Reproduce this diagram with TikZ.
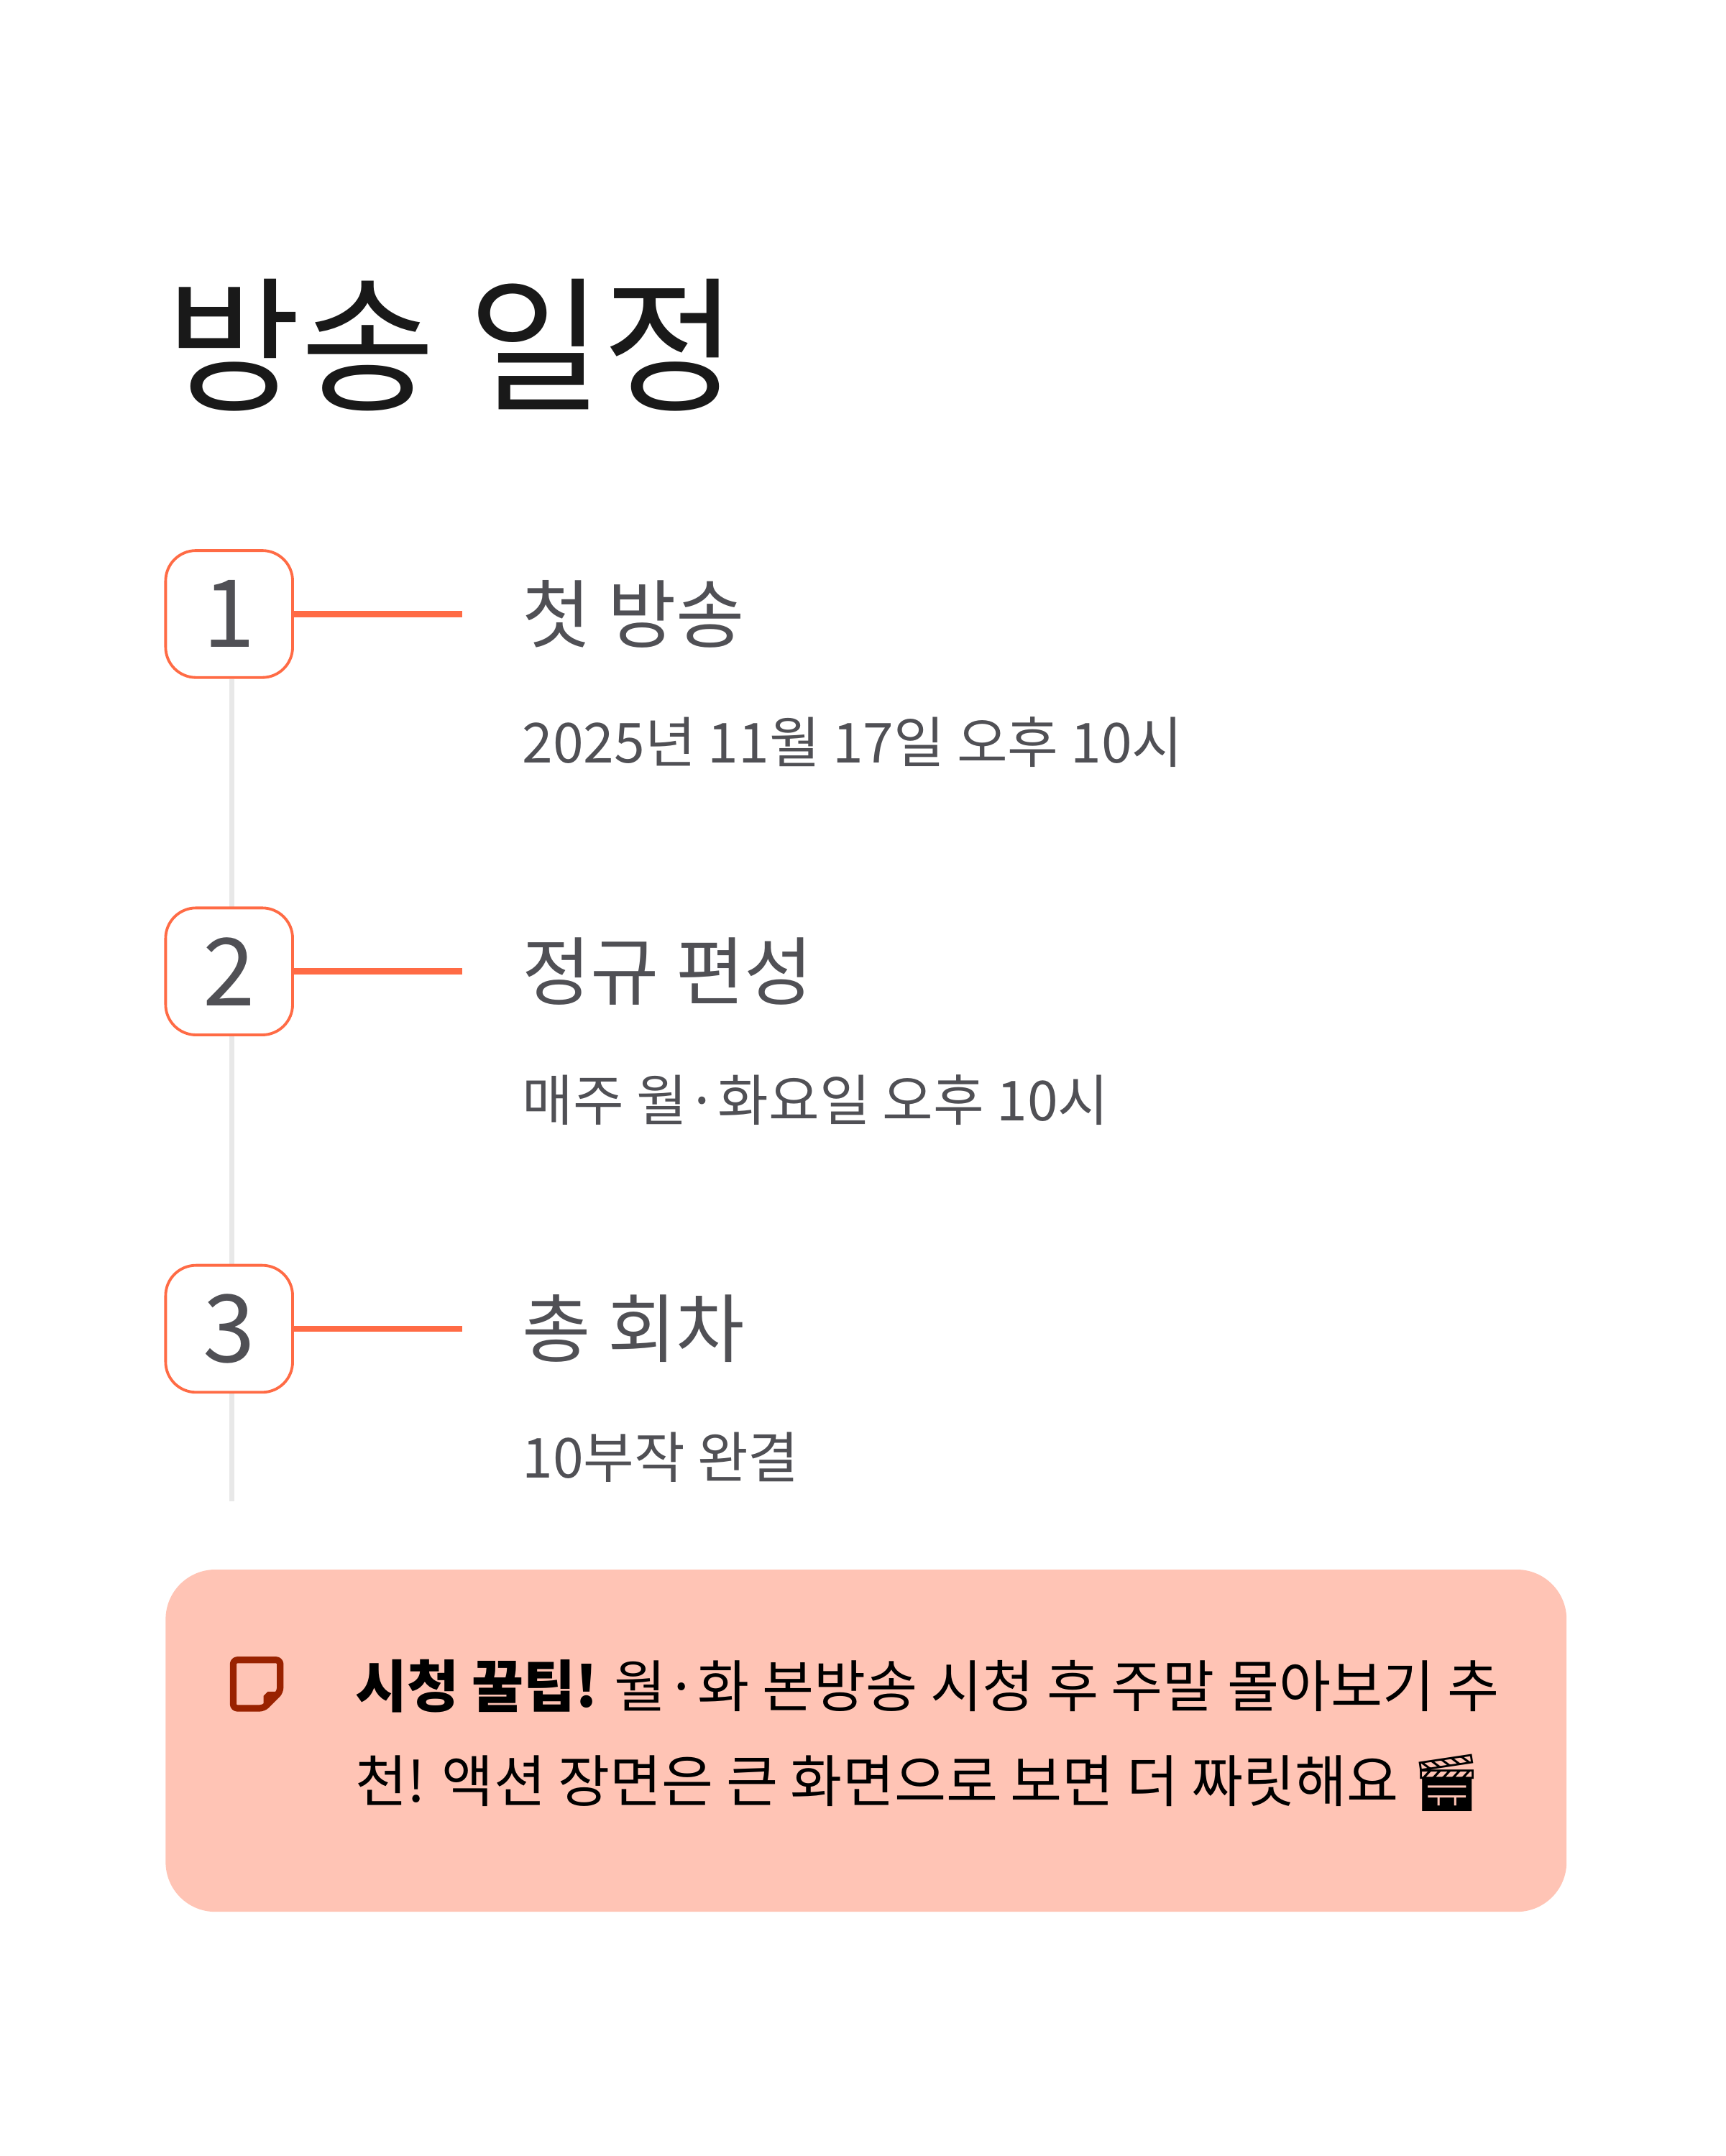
\documentclass[tikz,border=0pt]{standalone}
\usepackage{fontspec}
\setmainfont{Noto Sans CJK KR}
\newfontfamily\emojifont{Noto Emoji}
\definecolor{accent}{HTML}{FF6B45}
\definecolor{txtgray}{HTML}{505055}
\definecolor{tipbg}{HTML}{FFC4B5}
\definecolor{icon}{HTML}{992200}
\definecolor{rail}{HTML}{E8E8E8}
\tikzset{
  numbox/.style={draw=accent,line width=1pt,rounded corners=11pt,minimum width=46pt,minimum height=46pt,fill=white,font=\fontsize{34}{40}\selectfont,text=txtgray,inner sep=0pt},
  itemtitle/.style={anchor=west,font=\fontsize{27}{32}\selectfont,text=txtgray,inner sep=0pt},
  itemsub/.style={anchor=west,font=\fontsize{20}{24}\selectfont,text=txtgray,inner sep=0pt},
  conn/.style={draw=accent,line width=2.2pt}
}
\begin{document}
\begin{tikzpicture}[x=0.5pt,y=-0.5pt]
\useasboundingbox[fill=white] (0,0) rectangle (1250,1562.5);
\node[anchor=base west,inner sep=0pt,font=\fontsize{53}{60}\selectfont,text=black!90] (title) at (120,290) {방송 일정};
\coordinate (railtop) at (168,492);
\coordinate (railbot) at (168,1088);
\draw[rail,line width=2pt] (railtop) -- (railbot);
\foreach \i/\y/\t/\s in {1/445/첫 방송/2025년 11월 17일 오후 10시, 2/704/정규 편성/매주 월·화요일 오후 10시, 3/963/총 회차/10부작 완결}{
  \node[numbox] (n\i) at (166,\y) {\i};
  \node[itemtitle] (t\i) at (378,\y) {\t};
  \node[itemsub] (s\i) at (378,\y+93) {\s};
  \coordinate (c\i) at (335,\y);
  \draw[conn] (n\i.east) -- (c\i);
}
\node[fill=tipbg,rounded corners=18pt,minimum width=507.5pt,minimum height=124pt,inner sep=0pt] (tip) at (627.5,1261.5) {};
\draw[icon,line width=2.4pt,rounded corners=1.5pt,line join=round] (169,1203) -- (203,1203) -- (203,1226) -- (191,1238) -- (169,1238) -- cycle;
\fill[icon] (203,1226) -- (191,1238) -- (191,1229) -- (194,1226) -- cycle;
\node[anchor=base west,inner sep=0pt,font=\fontsize{20.4}{24}\selectfont,text=black] (tipl1) at (257,1237) {\textbf{시청 꿀팁!} 월·화 본방송 시청 후 주말 몰아보기 추};
\node[anchor=base west,inner sep=0pt,font=\fontsize{20.4}{24}\selectfont,text=black] (tipl2) at (257,1306) {천! 액션 장면은 큰 화면으로 보면 더 짜릿해요 {\emojifont 🎬}};
\end{tikzpicture}
\end{document}
